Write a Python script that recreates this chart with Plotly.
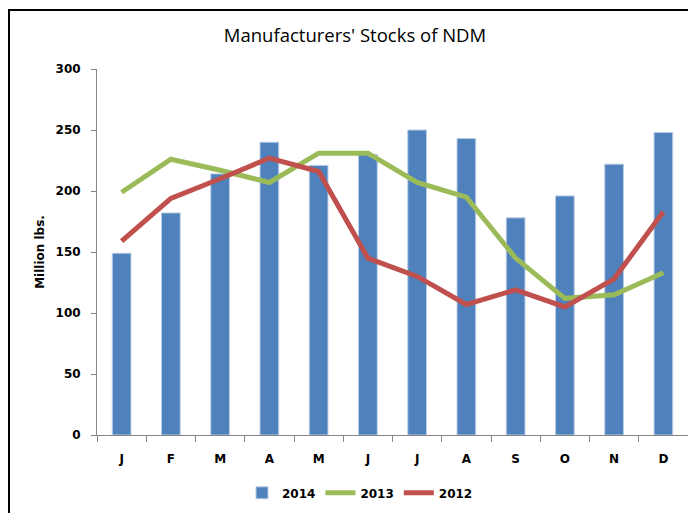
import plotly.graph_objects as go

months = ["J", "F", "M", "A", "M ", "J ", "J  ", "A ", "S", "O", "N", "D"]
tick_labels = ["J", "F", "M", "A", "M", "J", "J", "A", "S", "O", "N", "D"]
stocks_2014 = [149, 182, 214, 240, 221, 230, 250, 243, 178, 196, 222, 248]
stocks_2013 = [199, 226, 217, 207, 231, 231, 207, 195, 145, 112, 115, 133]
stocks_2012 = [159, 194, 210, 227, 216, 145, 130, 107, 119, 105, 128, 183]
y_ticks = [0, 50, 100, 150, 200, 250, 300]

fig = go.Figure()
fig.add_trace(go.Bar(x=months, y=stocks_2014, name="2014",
                     marker=dict(color="#4F81BD", line=dict(color="#B9CDE5", width=1))))
fig.add_trace(go.Scatter(x=months, y=stocks_2013, name="2013", mode="lines",
                         line=dict(color="#9BBB59", width=5)))
fig.add_trace(go.Scatter(x=months, y=stocks_2012, name="2012", mode="lines",
                         line=dict(color="#C0504D", width=5)))

tickfont = dict(family="DejaVu Sans", size=12, color="black", weight="bold")

# page body has an 8px default margin; figure coordinates compensate for it
fig.update_layout(
    width=696, height=513,
    margin=dict(l=89, r=16, t=61, b=86, autoexpand=False),
    paper_bgcolor="white", plot_bgcolor="white",
    bargap=0.62,
    showlegend=True,
    title=dict(text="Manufacturers' Stocks of NDM", x=(355 - 97) / 591, xref="paper", xanchor="center",
               y=1 - 28 / 513, yanchor="middle",
               font=dict(family="Open Sans", size=18.5, color="black")),
    legend=dict(orientation="h", x=0.445, xanchor="center", y=-0.158, yanchor="middle",
                font=tickfont, traceorder="normal"),
    xaxis=dict(type="category", tickvals=months, ticktext=tick_labels, tickson="boundaries",
               ticks="outside", ticklen=6, tickcolor="#868686", showline=True, linecolor="#868686",
               linewidth=1, showgrid=False, tickfont=tickfont, ticklabelstandoff=13, automargin=False),
    yaxis=dict(range=[0, 300], tickvals=y_ticks, ticks="outside", ticklen=5, tickcolor="#868686",
               showline=True, linecolor="#868686", linewidth=1, showgrid=False, zeroline=False,
               tickfont=tickfont, ticklabelstandoff=8, automargin=False,
               title=dict(text="Million lbs.", font=tickfont, standoff=8)),
    shapes=[dict(type="rect", xref="paper", yref="paper", x0=(1 - 89) / 591, x1=1.05,
                 y0=-0.3, y1=(435 - 10) / 366, line=dict(color="black", width=2),
                 fillcolor="rgba(0,0,0,0)", layer="below")],
)

fig.write_html("out.html")
